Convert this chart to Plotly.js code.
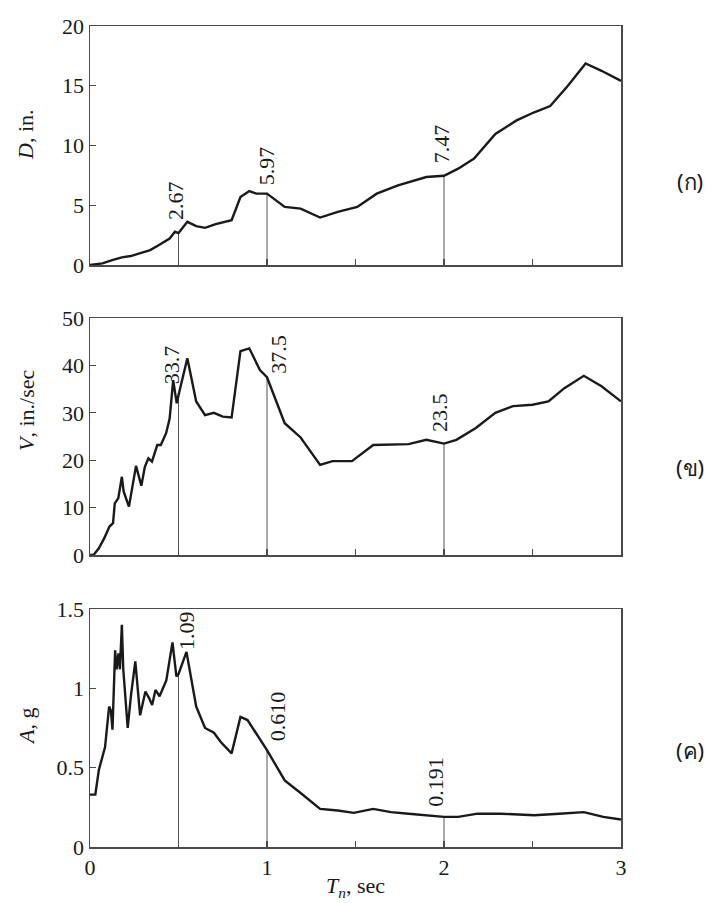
<!DOCTYPE html>
<html><head><meta charset="utf-8">
<script src="https://cdn.plot.ly/plotly-3.0.1.min.js"></script>
<style>html,body{margin:0;padding:0;background:#fff}#chart{width:711px;height:903px}</style>
</head><body><div id="chart"></div>
<script>
// ---- data ----
const periodD = [0,0.07,0.13,0.18,0.23,0.28,0.34,0.39,0.45,0.48,0.50,0.55,0.60,0.65,0.71,0.80,0.85,0.90,0.94,1.0,1.10,1.19,1.30,1.40,1.51,1.62,1.74,1.90,2.0,2.08,2.17,2.29,2.41,2.51,2.60,2.70,2.80,2.89,3.0];
const dispD   = [0,0.14,0.42,0.64,0.75,0.97,1.25,1.67,2.22,2.78,2.67,3.61,3.25,3.11,3.42,3.75,5.69,6.19,5.97,5.97,4.86,4.72,3.97,4.44,4.86,5.97,6.67,7.36,7.47,8.06,8.9,10.97,12.1,12.78,13.3,15.0,16.86,16.25,15.4];

const periodV = [0,0.02,0.05,0.08,0.11,0.13,0.14,0.16,0.18,0.19,0.22,0.24,0.26,0.29,0.31,0.33,0.35,0.38,0.40,0.43,0.45,0.47,0.49,0.50,0.55,0.60,0.65,0.70,0.75,0.80,0.85,0.90,0.96,1.0,1.10,1.19,1.30,1.37,1.48,1.60,1.80,1.90,2.0,2.07,2.18,2.29,2.39,2.50,2.59,2.68,2.79,2.89,3.0];
const velV    = [0,0,1.4,3.5,6.0,6.7,10.9,12.0,16.5,13.4,10.2,14.4,18.8,14.6,18.6,20.4,19.7,23.2,23.2,25.7,28.8,36.9,32.0,33.7,41.5,32.4,29.5,30.0,29.2,29.0,43.0,43.6,39.0,37.5,27.8,24.8,19.0,19.8,19.8,23.2,23.4,24.3,23.5,24.3,26.8,30.0,31.4,31.7,32.4,35.2,37.8,35.6,32.4];

const periodA = [0,0.03,0.05,0.07,0.085,0.108,0.118,0.127,0.142,0.15,0.161,0.169,0.18,0.188,0.213,0.232,0.256,0.283,0.313,0.333,0.351,0.37,0.393,0.431,0.466,0.488,0.50,0.545,0.60,0.65,0.70,0.74,0.80,0.85,0.89,1.0,1.10,1.19,1.30,1.40,1.49,1.60,1.70,1.80,2.0,2.08,2.19,2.32,2.51,2.65,2.79,2.90,3.0];
const accA    = [0.33,0.33,0.485,0.57,0.63,0.885,0.86,0.74,1.24,1.12,1.22,1.12,1.40,1.12,0.75,0.96,1.17,0.83,0.98,0.94,0.895,0.99,0.95,1.05,1.29,1.075,1.09,1.23,0.885,0.75,0.72,0.66,0.59,0.82,0.80,0.61,0.42,0.34,0.24,0.23,0.215,0.24,0.22,0.21,0.19,0.19,0.21,0.21,0.20,0.21,0.22,0.19,0.173];

const markPeriods = [0.5, 1, 2];
const markD = [2.67, 5.97, 7.47];
const markDText = ['2.67', '5.97', '7.47'];
const markV = [33.7, 37.5, 23.5];
const markVText = ['33.7', '37.5', '23.5'];
const markA = [1.09, 0.610, 0.191];
const markAText = ['1.09', '0.610', '0.191'];

const xTickVals = [0, 1, 2, 3];
const xTickText = ['0', '1', '2', '3'];
const xMinorStep = 0.5;
const dTickVals = [0, 5, 10, 15, 20];
const vTickVals = [0, 10, 20, 30, 40, 50];
const aTickVals = [0, 0.5, 1, 1.5];
const aTickText = ['0', '0.5', '1', '1.5'];

const panelLabels = ['(ก)', '(ข)', '(ค)'];
const yTitles = ['<i>D</i>, in.', '<i>V</i>, in./sec', '<i>A</i>, g'];
const xTitle = '<i>T<sub>n</sub></i>, sec';

// ---- styling / layout ----
const W = 711, H = 903;
const serif = "'Liberation Serif', 'Times New Roman', serif";
const ink = '#1a1a1a';
const frame = '#4a4a4a';
const px = v => v / W;
const py = v => 1 - v / H;

const xDomain = [px(90), px(621)];
const yDomains = [[py(265), py(26)], [py(555), py(318)], [py(847), py(609)]];
const yRanges = [[0, 20], [0, 50], [0, 1.5]];
const yTickVals = [dTickVals, vTickVals, aTickVals];
const yTickTexts = [dTickVals.map(String), vTickVals.map(String), aTickText];
const labelShift = [[[-3, 11], [-1, 6], [-3, 10]], [[-7, 9], [12, 1], [-5, 9]], [[8, 22], [10, 7], [-8, 8]]];
const yTitlePos = [135, 410, 727];
const panelLabelPos = [181, 467, 750];

const series = [[periodD, dispD], [periodV, velV], [periodA, accA]];
const marks = [[markD, markDText], [markV, markVText], [markA, markAText]];

const traces = [];
const annotations = [];
const layout = {
  width: W, height: H,
  margin: {l: 0, r: 0, t: 0, b: 0},
  paper_bgcolor: '#fff', plot_bgcolor: '#fff',
  showlegend: false,
  font: {family: serif, size: 22, color: ink}
};

for (let i = 0; i < 3; i++) {
  const n = i === 0 ? '' : String(i + 1);
  const xa = 'x' + n, ya = 'y' + n;
  const vx = [], vy = [];
  markPeriods.forEach((t, k) => { vx.push(t, t, null); vy.push(0, marks[i][0][k], null); });
  traces.push({x: vx, y: vy, xaxis: xa, yaxis: ya, mode: 'lines',
    line: {color: '#555', width: 1}, hoverinfo: 'skip'});
  traces.push({x: series[i][0], y: series[i][1], xaxis: xa, yaxis: ya, mode: 'lines',
    line: {color: ink, width: 2.4}});

  layout['xaxis' + n] = {
    domain: xDomain, anchor: ya, range: [0, 3],
    showline: true, mirror: true, linecolor: frame, linewidth: 1.5,
    ticks: 'inside', ticklen: 6, tickwidth: 1.2, tickcolor: frame,
    tickmode: 'array', tickvals: xTickVals, ticktext: xTickText,
    minor: {ticks: 'inside', dtick: xMinorStep, tick0: 0, ticklen: 6, tickwidth: 1.2, tickcolor: frame, showgrid: false},
    showticklabels: i === 2, showgrid: false, zeroline: false,
    tickfont: {family: serif, size: 22, color: ink}
  };
  layout['yaxis' + n] = {
    domain: yDomains[i], anchor: xa, range: yRanges[i],
    showline: true, mirror: true, linecolor: frame, linewidth: 1.5,
    ticks: 'inside', ticklen: 6, tickwidth: 1.2, tickcolor: frame,
    tickmode: 'array', tickvals: yTickVals[i], ticktext: yTickTexts[i],
    showgrid: false, zeroline: false,
    tickfont: {family: serif, size: 22, color: ink}
  };

  markPeriods.forEach((t, k) => {
    annotations.push({
      xref: xa, yref: ya, x: t, y: marks[i][0][k], text: marks[i][1][k],
      showarrow: false, textangle: -90, xanchor: 'center', yanchor: 'bottom',
      xshift: labelShift[i][k][0], yshift: labelShift[i][k][1],
      font: {family: serif, size: 22, color: ink}
    });
  });

  annotations.push({
    xref: 'paper', yref: 'paper', x: px(26), y: py(yTitlePos[i]), text: yTitles[i],
    showarrow: false, textangle: -90, xanchor: 'center', yanchor: 'middle',
    font: {family: serif, size: 22, color: ink}
  });
  annotations.push({
    xref: 'paper', yref: 'paper', x: px(690), y: py(panelLabelPos[i]), text: panelLabels[i],
    showarrow: false, xanchor: 'center', yanchor: 'middle',
    font: {family: "'Noto Sans', 'DejaVu Sans', sans-serif", size: 22, color: ink}
  });
}
annotations.push({
  xref: 'paper', yref: 'paper', x: px(355), y: py(887), text: xTitle,
  showarrow: false, xanchor: 'center', yanchor: 'middle',
  font: {family: serif, size: 22, color: ink}
});
layout.annotations = annotations;

Plotly.newPlot('chart', traces, layout, {staticPlot: true, displayModeBar: false});
</script>
</body></html>
